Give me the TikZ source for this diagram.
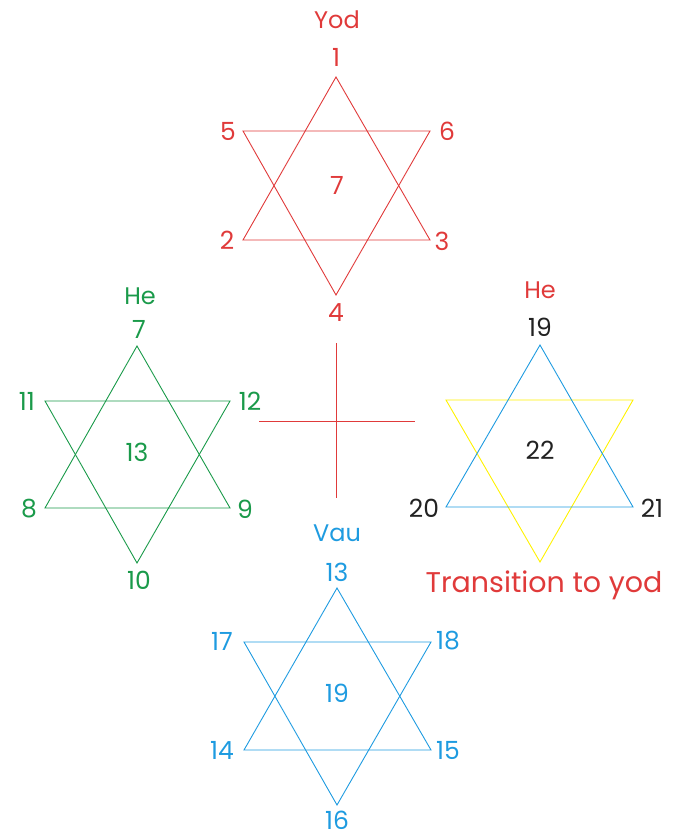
\documentclass[tikz,border=0pt]{standalone}
\usepackage{fontspec}
\setmainfont{Poppins}
\definecolor{sred}{HTML}{E03A3A}
\definecolor{sgreen}{HTML}{1A9A4A}
\definecolor{sblue}{HTML}{1E9BE0}
\definecolor{syellow}{HTML}{FFF200}
\definecolor{sblack}{HTML}{222222}
\tikzset{
  line/.style={line width=0.9pt, line join=miter},
  num/.style={inner sep=0pt, font=\fontsize{25}{28}\selectfont},
  ttl/.style={inner sep=0pt, font=\fontsize{24}{27}\selectfont},
  big/.style={inner sep=0pt, font=\fontsize{28.5}{32}\selectfont},
}
\begin{document}
\begin{tikzpicture}[x=1pt,y=-1pt]
\useasboundingbox (0,0) rectangle (682,838);
% red star
\coordinate (ra) at (336,77); \coordinate (rbl) at (243,240); \coordinate (rbr) at (430,240);
\coordinate (rtl) at (243,131); \coordinate (rtr) at (430,131); \coordinate (rb) at (336,295);
\draw[line, sred] (ra) -- (rbr) -- (rbl) -- cycle;
\draw[line, sred] (rtl) -- (rtr) -- (rb) -- cycle;
\node[ttl, text=sred] (yod) at (337,20) {Yod};
\node[num, text=sred] (r1) at (336,57) {1};
\node[num, text=sred] (r5) at (228,131) {5};
\node[num, text=sred] (r6) at (447,131) {6};
\node[num, text=sred] (r7) at (337,185) {7};
\node[num, text=sred] (r2) at (227,240) {2};
\node[num, text=sred] (r3) at (442,241) {3};
\node[num, text=sred] (r4) at (336,313) {4};
% green star
\coordinate (ga) at (137,346); \coordinate (gbl) at (45,508); \coordinate (gbr) at (230,508);
\coordinate (gtl) at (45,401); \coordinate (gtr) at (230,401); \coordinate (gb) at (137,563);
\draw[line, sgreen] (ga) -- (gbr) -- (gbl) -- cycle;
\draw[line, sgreen] (gtl) -- (gtr) -- (gb) -- cycle;
\node[ttl, text=sgreen] (ghe) at (140,296) {He};
\node[num, text=sgreen] (g7) at (139,329) {7};
\node[num, text=sgreen] (g11) at (27,401) {11};
\node[num, text=sgreen] (g12) at (250,401) {12};
\node[num, text=sgreen] (g13) at (137,452) {13};
\node[num, text=sgreen] (g8) at (29,509) {8};
\node[num, text=sgreen] (g9) at (245,509) {9};
\node[num, text=sgreen] (g10) at (139,580) {10};
% cross
\coordinate (ct) at (336,343); \coordinate (cb) at (336,498);
\coordinate (cl) at (259,421); \coordinate (cr) at (415,421);
\draw[line, sred] (ct) -- (cb);
\draw[line, sred] (cl) -- (cr);
% right star
\coordinate (ka) at (540,345); \coordinate (kbl) at (446,507); \coordinate (kbr) at (633,507);
\coordinate (ktl) at (446,400); \coordinate (ktr) at (633,400); \coordinate (kb) at (540,562);
\draw[line, syellow] (ktl) -- (ktr) -- (kb) -- cycle;
\draw[line, sblue] (ka) -- (kbr) -- (kbl) -- cycle;
\node[ttl, text=sred] (khe) at (540,290) {He};
\node[num, text=sblack] (k19) at (540,327) {19};
\node[num, text=sblack] (k22) at (540,450) {22};
\node[num, text=sblack] (k20) at (424,508) {20};
\node[num, text=sblack] (k21) at (652,508) {21};
\node[big, text=sred] (trans) at (544,585) {Transition to yod};
% blue star
\coordinate (ba) at (337,588); \coordinate (bbl) at (244,750); \coordinate (bbr) at (431,750);
\coordinate (btl) at (244,642); \coordinate (btr) at (431,642); \coordinate (bb) at (337,805);
\draw[line, sblue] (ba) -- (bbr) -- (bbl) -- cycle;
\draw[line, sblue] (btl) -- (btr) -- (bb) -- cycle;
\node[ttl, text=sblue] (vau) at (337,533) {Vau};
\node[num, text=sblue] (b13) at (337,572) {13};
\node[num, text=sblue] (b17) at (222,641) {17};
\node[num, text=sblue] (b18) at (448,641) {18};
\node[num, text=sblue] (b19) at (337,693) {19};
\node[num, text=sblue] (b14) at (222,750) {14};
\node[num, text=sblue] (b15) at (448,750) {15};
\node[num, text=sblue] (b16) at (337,820) {16};
\end{tikzpicture}
\end{document}
